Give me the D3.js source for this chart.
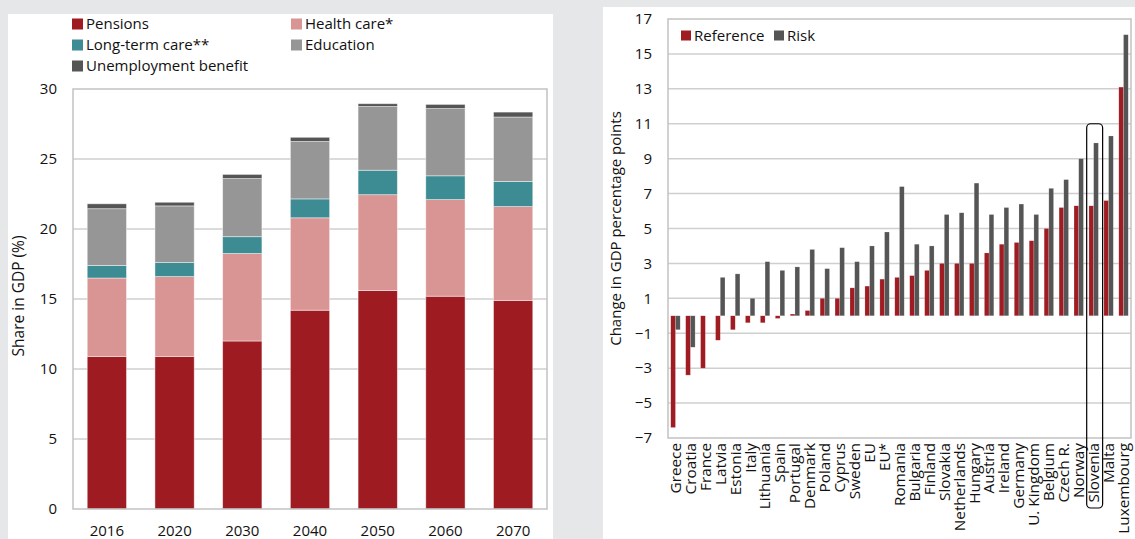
<!DOCTYPE html>
<html>
<head>
<meta charset="utf-8">
<script src="https://cdn.jsdelivr.net/npm/d3@7"></script>
<style>
  html, body { margin: 0; padding: 0; background: #e6e7e9; }
  svg { display: block; }
  text { font-family: "Open Sans", "Noto Sans", sans-serif; fill: #111; }
</style>
</head>
<body>
<svg id="chart" width="1135" height="539"></svg>
<script>
// ---------- Left chart data ----------
const years = ["2016", "2020", "2030", "2040", "2050", "2060", "2070"];
const pensions = [10.9, 10.9, 12.0, 14.2, 15.6, 15.2, 14.9];
const healthCare = [5.6, 5.7, 6.25, 6.6, 6.85, 6.9, 6.7];
const longTermCare = [0.9, 1.0, 1.2, 1.35, 1.75, 1.7, 1.8];
const education = [4.05, 4.05, 4.15, 4.1, 4.55, 4.8, 4.6];
const unemployment = [0.35, 0.26, 0.3, 0.3, 0.2, 0.3, 0.35];
const leftSeriesNames = ["Pensions", "Health care*", "Long-term care**", "Education", "Unemployment benefit"];
const leftTicks = [0, 5, 10, 15, 20, 25, 30];

// ---------- Right chart data ----------
const countries = ["Greece", "Croatia", "France", "Latvia", "Estonia", "Italy", "Lithuania", "Spain",
  "Portugal", "Denmark", "Poland", "Cyprus", "Sweden", "EU", "EU*", "Romania", "Bulgaria", "Finland",
  "Slovakia", "Netherlands", "Hungary", "Austria", "Ireland", "Germany", "U. Kingdom", "Belgium",
  "Czech R.", "Norway", "Slovenia", "Malta", "Luxembourg"];
const reference = [-6.4, -3.4, -3.0, -1.4, -0.8, -0.4, -0.4, -0.15, 0.1, 0.3, 1.0, 1.0, 1.6, 1.7, 2.1,
  2.2, 2.3, 2.6, 3.0, 3.0, 3.0, 3.6, 4.1, 4.2, 4.3, 5.0, 6.2, 6.3, 6.3, 6.6, 13.1];
const risk = [-0.8, -1.8, 0, 2.2, 2.4, 1.0, 3.1, 2.6, 2.8, 3.8, 2.7, 3.9, 3.1, 4.0, 4.8,
  7.4, 4.1, 4.0, 5.8, 5.9, 7.6, 5.8, 6.2, 6.4, 5.8, 7.3, 7.8, 9.0, 9.9, 10.3, 16.1];
const rightSeriesNames = ["Reference", "Risk"];
const rightTicks = [-7, -5, -3, -1, 1, 3, 5, 7, 9, 11, 13, 15, 17];
const highlighted = "Slovenia";

// ---------- styles ----------
const leftColors = ["#9e1b22", "#d99594", "#3d8b93", "#969696", "#555555"];
const rightColors = ["#a01c23", "#555555"];
const gridColor = "#cfcfcf";
const frameColor = "#c2c2c2";

const svg = d3.select("#chart");

// panels
svg.append("rect").attr("x", 8).attr("y", 14).attr("width", 545).attr("height", 525).attr("fill", "#fff");
svg.append("rect").attr("x", 603).attr("y", 7).attr("width", 532).attr("height", 532).attr("fill", "#fff");

// ================= LEFT CHART =================
{
  const L = { left: 73, right: 547, top: 89, bottom: 509 };
  const g = svg.append("g");
  const x = d3.scaleBand().domain(years).range([L.left, L.right]).paddingInner(0.42).paddingOuter(0.21);
  const y = d3.scaleLinear().domain([0, 30]).range([L.bottom, L.top]);

  g.selectAll("line.grid").data(leftTicks.filter(t => t > 0 && t < 30)).join("line")
    .attr("x1", L.left).attr("x2", L.right)
    .attr("y1", d => y(d)).attr("y2", d => y(d))
    .attr("stroke", gridColor).attr("stroke-width", 1.5);

  const series = [pensions, healthCare, longTermCare, education, unemployment];
  const rows = years.map((yr, i) => {
    const o = { year: yr };
    leftSeriesNames.forEach((n, k) => o[n] = series[k][i]);
    return o;
  });
  const stack = d3.stack().keys(leftSeriesNames)(rows);
  g.selectAll("g.layer").data(stack).join("g")
    .attr("fill", (d, i) => leftColors[i])
    .selectAll("rect").data(d => d).join("rect")
    .attr("x", d => x(d.data.year))
    .attr("width", x.bandwidth())
    .attr("y", d => y(d[1]))
    .attr("height", d => y(d[0]) - y(d[1]))
    .attr("stroke", "rgba(255,255,255,0.55)").attr("stroke-width", 0.8);

  g.append("rect").attr("x", L.left).attr("y", L.top)
    .attr("width", L.right - L.left).attr("height", L.bottom - L.top)
    .attr("fill", "none").attr("stroke", frameColor).attr("stroke-width", 1.5);

  const ya = d3.axisLeft(y).tickValues(leftTicks).tickSize(0).tickPadding(0);
  const yg = g.append("g").attr("transform", `translate(${L.left - 16},0)`).call(ya);
  yg.select(".domain").remove();
  yg.selectAll("text").attr("font-size", 15).attr("fill", "#111").attr("font-family", "Open Sans");

  const xa = d3.axisBottom(x).tickSize(0).tickPadding(0);
  const xg = g.append("g").attr("transform", `translate(0,${L.bottom + 16})`).call(xa);
  xg.select(".domain").remove();
  xg.selectAll("text").attr("font-size", 15).attr("fill", "#111").attr("font-family", "Open Sans");

  g.append("text").attr("transform", `translate(24,${(L.top + L.bottom) / 2 - 3}) rotate(-90)`)
    .attr("text-anchor", "middle").attr("font-size", 15.5).text("Share in GDP (%)");

  const legPos = [[72, 24], [291, 24], [72, 45], [291, 45], [72, 66]];
  const lg = g.append("g");
  leftSeriesNames.forEach((n, i) => {
    const [lx, ly] = legPos[i];
    lg.append("rect").attr("x", lx).attr("y", ly - 5.5).attr("width", 11).attr("height", 11).attr("fill", leftColors[i]);
    lg.append("text").attr("x", lx + 14).attr("y", ly).attr("dy", "0.35em").attr("font-size", 15).text(n);
  });
}

// ================= RIGHT CHART =================
{
  const R = { left: 668, right: 1131, top: 19, bottom: 438 };
  const g = svg.append("g");
  const x0 = d3.scaleBand().domain(countries).range([R.left, R.right]).paddingInner(0.37).paddingOuter(0.185);
  const x1 = d3.scaleBand().domain(rightSeriesNames).range([0, x0.bandwidth()]).padding(0);
  const y = d3.scaleLinear().domain([-7, 17]).range([R.bottom, R.top]);

  g.selectAll("line.grid").data(rightTicks.filter(t => t > -7 && t < 17)).join("line")
    .attr("x1", R.left).attr("x2", R.right)
    .attr("y1", d => y(d)).attr("y2", d => y(d))
    .attr("stroke", gridColor).attr("stroke-width", 1.5);

  const seriesR = [reference, risk];
  const bars = [];
  countries.forEach((c, i) => rightSeriesNames.forEach((s, k) => bars.push({ c, s, k, v: seriesR[k][i] })));
  g.selectAll("rect.bar").data(bars.filter(d => d.v !== 0)).join("rect")
    .attr("x", d => x0(d.c) + x1(d.s))
    .attr("width", x1.bandwidth())
    .attr("y", d => y(Math.max(0, d.v)))
    .attr("height", d => Math.abs(y(d.v) - y(0)))
    .attr("fill", d => rightColors[d.k])
    .attr("stroke", "rgba(255,255,255,0.35)").attr("stroke-width", 0.5);

  g.append("rect").attr("x", R.left).attr("y", R.top)
    .attr("width", R.right - R.left).attr("height", R.bottom - R.top)
    .attr("fill", "none").attr("stroke", frameColor).attr("stroke-width", 1.5);

  const ya = d3.axisLeft(y).tickValues(rightTicks).tickSize(0).tickPadding(0);
  const yg = g.append("g").attr("transform", `translate(${R.left - 16},0)`).call(ya);
  yg.select(".domain").remove();
  yg.selectAll("text").attr("font-size", 15).attr("fill", "#111").attr("font-family", "Open Sans");

  const xa = d3.axisBottom(x0).tickSize(0).tickPadding(0);
  const xg = g.append("g").attr("transform", `translate(0,${R.bottom + 5})`).call(xa);
  xg.select(".domain").remove();
  xg.selectAll("text")
    .attr("font-size", 15.3).attr("fill", "#111").attr("font-family", "Open Sans")
    .attr("transform", "rotate(-90)")
    .attr("text-anchor", "end").attr("x", 0).attr("y", 0).attr("dy", "0.35em");

  g.append("text").attr("transform", `translate(621,${(R.top + R.bottom) / 2}) rotate(-90)`)
    .attr("text-anchor", "middle").attr("font-size", 15).text("Change in GDP percentage points");

  const step = x0.step();
  const bx = x0(highlighted) - (step - x0.bandwidth()) / 2;
  g.append("rect")
    .attr("x", bx + 0.5).attr("y", y(11))
    .attr("width", step + 1).attr("height", R.bottom + 70 - y(11))
    .attr("rx", 4).attr("ry", 4)
    .attr("fill", "none").attr("stroke", "#000").attr("stroke-width", 1.2);

  const legX = [681, 774];
  rightSeriesNames.forEach((n, i) => {
    g.append("rect").attr("x", legX[i]).attr("y", 35.5 - 5).attr("width", 10).attr("height", 10).attr("fill", rightColors[i]);
    g.append("text").attr("x", legX[i] + 13).attr("y", 35.5).attr("dy", "0.35em").attr("font-size", 15).text(n);
  });
}
</script>
</body>
</html>
